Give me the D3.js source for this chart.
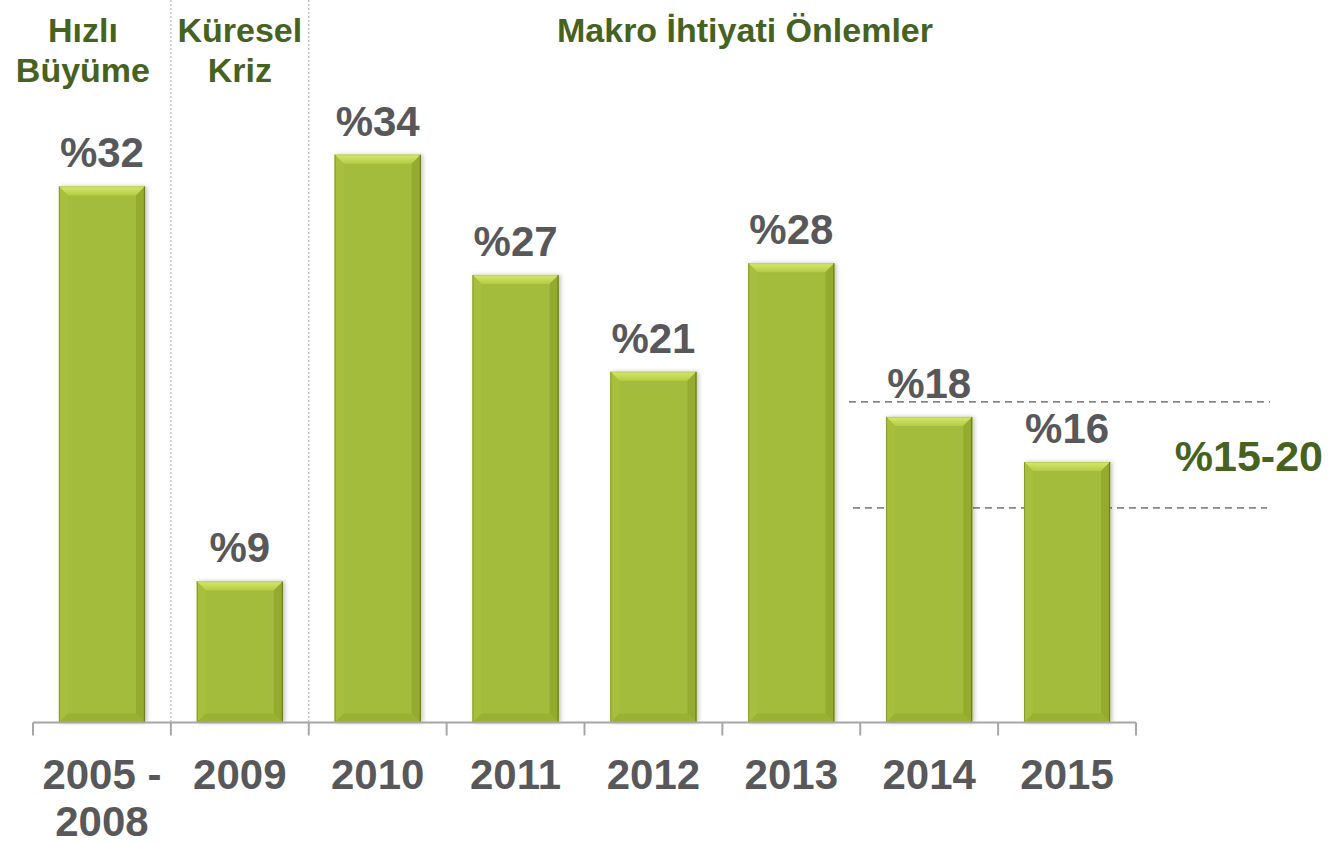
<!DOCTYPE html>
<html><head><meta charset="utf-8">
<script src="https://cdn.jsdelivr.net/npm/d3@7"></script>
<style>body{margin:0;background:#fff}svg{display:block}</style>
</head><body>
<svg id="c" width="1330" height="844"></svg>
<script>
const categories = ["2005 - 2008","2009","2010","2011","2012","2013","2014","2015"];
const categoryLines = [["2005 -","2008"],["2009"],["2010"],["2011"],["2012"],["2013"],["2014"],["2015"]];
const values = [32.1, 8.45, 34.0, 26.8, 21.0, 27.5, 18.3, 15.6];
const valueLabels = ["%32","%9","%34","%27","%21","%28","%18","%16"];
const targetRange = [12.85, 19.2];
const targetLabel = "%15-20";
const periods = [
  {lines:["Hızlı","Büyüme"], from:0, to:0},
  {lines:["Küresel","Kriz"], from:1, to:1},
  {lines:["Makro İhtiyati Önlemler"], from:2, to:7}
];

const svg = d3.select("#c");
const FONT = "'Liberation Sans', Arial, sans-serif";
const x = d3.scaleBand().domain(categories).range([33, 1136]).paddingInner(0.376).paddingOuter(0.188);
const y = d3.scaleLinear().domain([0, 40]).range([722.5, 54.5]);

const defs = svg.append("defs");
const f = defs.append("filter").attr("id","sh").attr("x","-20%").attr("y","-10%").attr("width","140%").attr("height","120%");
f.append("feDropShadow").attr("dx",2).attr("dy",0).attr("stdDeviation",2).attr("flood-color","#000").attr("flood-opacity",0.25);
const gTop = defs.append("linearGradient").attr("id","gtop").attr("x1",0).attr("y1",0).attr("x2",0).attr("y2",1);
gTop.append("stop").attr("offset",0).attr("stop-color","#d6e86e");
gTop.append("stop").attr("offset",1).attr("stop-color","#b4cc45");

// separators
const sepX = [x.step()*1 + 33, x.step()*2 + 33];
svg.append("g").selectAll("line").data(sepX).join("line")
  .attr("x1",d=>d).attr("x2",d=>d).attr("y1",0).attr("y2",y(0))
  .attr("stroke","#aaa").attr("stroke-width",1).attr("stroke-dasharray","2,2");

// target dashed lines
svg.append("g").selectAll("line").data(targetRange).join("line")
  .attr("x1",(d,i)=>i? 849:853).attr("x2",(d,i)=>i?1270:1267)
  .attr("y1",d=>y(d)).attr("y2",d=>y(d))
  .attr("stroke","#888").attr("stroke-width",1.6).attr("stroke-dasharray","7,5");

// bars
const bw = x.bandwidth(), bv = 9;
const bars = svg.append("g").selectAll("g").data(values).join("g")
  .attr("transform",(d,i)=>`translate(${x(categories[i])},${y(d)})`);
bars.append("rect").attr("width",bw).attr("height",d=>y(0)-y(d)).attr("fill","#a4bc3a").attr("filter","url(#sh)");
bars.append("polygon").attr("points",`0,0 ${bw},0 ${bw-bv},${bv} ${bv},${bv}`).attr("fill","url(#gtop)");
bars.append("polygon").attr("points",d=>`0,0 ${bv},${bv} ${bv},${y(0)-y(d)-bv} 0,${y(0)-y(d)}`).attr("fill","#a8bf3d");
bars.append("polygon").attr("points",d=>`${bw},0 ${bw},${y(0)-y(d)} ${bw-bv},${y(0)-y(d)-bv} ${bw-bv},${bv}`).attr("fill","#95ab2f");
bars.append("polygon").attr("points",d=>{const h=y(0)-y(d);return `0,${h} ${bw},${h} ${bw-bv},${h-bv} ${bv},${h-bv}`}).attr("fill","#9ab232");
bars.append("line").attr("x1",0).attr("x2",bw).attr("y1",0.5).attr("y2",0.5).attr("stroke","#c0d258").attr("stroke-width",1);
bars.append("line").attr("x1",bw-0.5).attr("x2",bw-0.5).attr("y1",0).attr("y2",d=>y(0)-y(d)).attr("stroke","#6d7f20").attr("stroke-width",1.2);
bars.append("line").attr("x1",0.5).attr("x2",0.5).attr("y1",0).attr("y2",d=>y(0)-y(d)).attr("stroke","#879c2a").attr("stroke-width",1);

// axis
const ax = svg.append("g");
ax.append("line").attr("x1",33).attr("x2",1136).attr("y1",y(0)).attr("y2",y(0)).attr("stroke","#a6a6a6").attr("stroke-width",2);
const tickX = d3.range(categories.length+1).map(i=>33 + i*x.step());
ax.selectAll(".t").data(tickX).join("line").attr("class","t")
  .attr("x1",d=>d).attr("x2",d=>d).attr("y1",y(0)).attr("y2",y(0)+13)
  .attr("stroke","#a6a6a6").attr("stroke-width",2);

// category labels
const cl = svg.append("g").selectAll("text").data(categoryLines).join("text")
  .attr("x",(d,i)=>x(categories[i])+bw/2).attr("y",789)
  .attr("text-anchor","middle").attr("font-family",FONT).attr("font-weight","bold")
  .attr("font-size",42).attr("fill","#58585b");
cl.selectAll("tspan").data(d=>d).join("tspan")
  .attr("x",function(){return this.parentNode.getAttribute("x")}).attr("dy",(d,i)=>i?47:0).text(d=>d);

// value labels
svg.append("g").selectAll("text").data(values).join("text")
  .attr("x",(d,i)=>x(categories[i])+bw/2).attr("y",d=>y(d)-19)
  .attr("text-anchor","middle").attr("font-family",FONT).attr("font-weight","bold")
  .attr("font-size",42).attr("fill","#58585b").text((d,i)=>valueLabels[i]);

// target label
svg.append("text").attr("x",1323).attr("y",471).attr("text-anchor","end")
  .attr("font-family",FONT).attr("font-weight","bold").attr("font-size",43).attr("fill","#46621f").text(targetLabel);

// period headers
const ph = svg.append("g").selectAll("text").data(periods).join("text")
  .attr("x",d=>d.from===d.to ? x(categories[d.from])+bw/2 - (d.from===0?19:0) : 745)
  .attr("y",42).attr("text-anchor","middle").attr("font-family",FONT).attr("font-weight","bold")
  .attr("font-size",34).attr("fill","#46621f");
ph.selectAll("tspan").data(d=>d.lines).join("tspan")
  .attr("x",function(){return this.parentNode.getAttribute("x")}).attr("dy",(d,i)=>i?40:0).text(d=>d);
</script>
</body></html>
